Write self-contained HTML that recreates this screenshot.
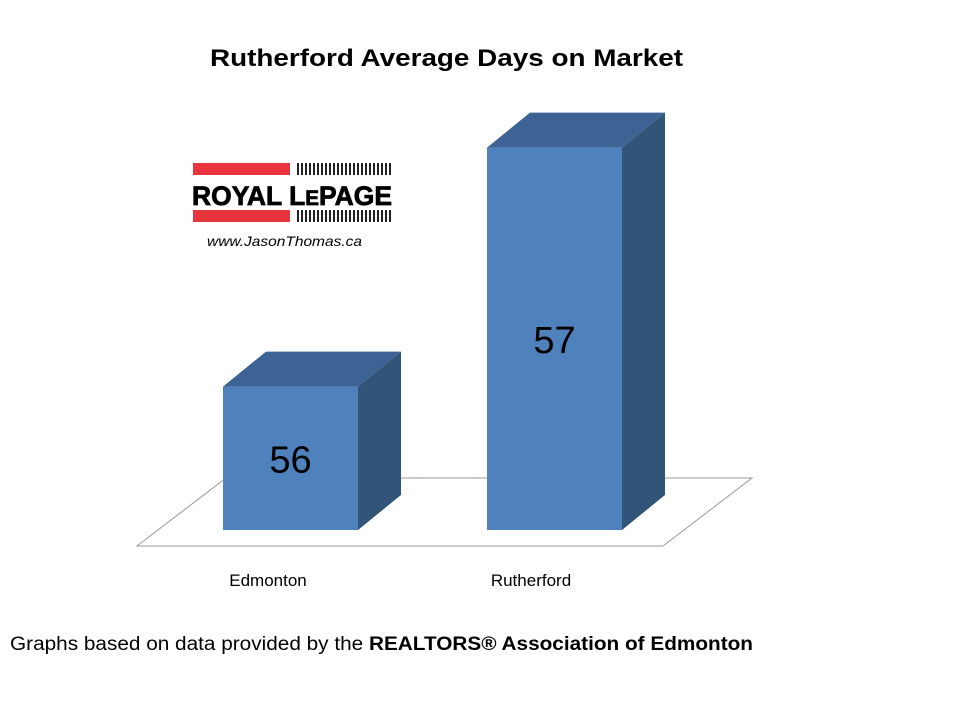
<!DOCTYPE html>
<html><head><meta charset="utf-8"><style>
body{margin:0;background:#fff;width:960px;height:720px;overflow:hidden;font-family:"Liberation Sans",sans-serif}
</style></head><body>
<svg width="960" height="720">
<text x="210" y="66" font-size="24" font-weight="bold" textLength="473" lengthAdjust="spacingAndGlyphs">Rutherford Average Days on Market</text>
<g>
<rect x="193" y="163" width="97" height="12" fill="#e8343c"/>
<rect x="193" y="210" width="97" height="12" fill="#e8343c"/>
<g id="bc1"></g>
<text x="192" y="205" font-size="27" font-weight="bold" stroke="#000" stroke-width="0.8" textLength="200" lengthAdjust="spacingAndGlyphs">ROYAL L<tspan font-size="21">E</tspan>PAGE</text>
<text x="207" y="246" font-size="14" font-style="italic" textLength="155" lengthAdjust="spacingAndGlyphs">www.JasonThomas.ca</text>
</g>
<polygon points="137,546 663,546 752,478 226,478" fill="#fff" stroke="#999" stroke-width="1"/>
<g id="bars"></g>
<text x="268" y="586" text-anchor="middle" font-size="17">Edmonton</text>
<text x="531" y="586" text-anchor="middle" font-size="17">Rutherford</text>
<text x="10" y="650" font-size="19" textLength="743" lengthAdjust="spacingAndGlyphs">Graphs based on data provided by the <tspan font-weight="bold">REALTORS® Association of Edmonton</tspan></text>
</svg>
<script>
const categories=["Edmonton","Rutherford"];
const values=[56,57];
const NS="http://www.w3.org/2000/svg";
const axisMin=55.4, pxPerUnit=239, baseY=530;
const xLeft=[223,487], barW=135, dx=43, dy=-35;
function yScale(v){return baseY-(v-axisMin)*pxPerUnit;}
const g=document.getElementById('bars');
function mk(tag,attrs){const e=document.createElementNS(NS,tag);for(const k in attrs)e.setAttribute(k,attrs[k]);return e;}
categories.forEach((c,i)=>{
 const x=xLeft[i], y=yScale(values[i]), x2=x+barW;
 const grp=mk('g',{});
 
 
 grp.appendChild(mk('polygon',{points:`${x},${y} ${x2},${y} ${x2+dx},${y+dy} ${x+dx},${y+dy}`,fill:'#3c6393'}));
 grp.appendChild(mk('polygon',{points:`${x2},${y} ${x2+dx},${y+dy} ${x2+dx},${baseY+dy} ${x2},${baseY}`,fill:'#325479'}));
 grp.appendChild(mk('rect',{x:x,y:y,width:barW,height:baseY-y,fill:'#4f81bd'}));
 const t=mk('text',{x:x+barW/2,y:(y+baseY)/2+14,'text-anchor':'middle','font-size':'38'});
 
 
 t.textContent=values[i];
 grp.appendChild(t);
 g.appendChild(grp);
});
const bc=document.getElementById('bc1');
for(let k=0;k<24;k++){
 bc.appendChild(mk('rect',{x:297+k*4,y:163,width:2,height:12,fill:'#222'}));
 bc.appendChild(mk('rect',{x:297+k*4,y:210,width:2,height:12,fill:'#222'}));
}
</script>
</body></html>
